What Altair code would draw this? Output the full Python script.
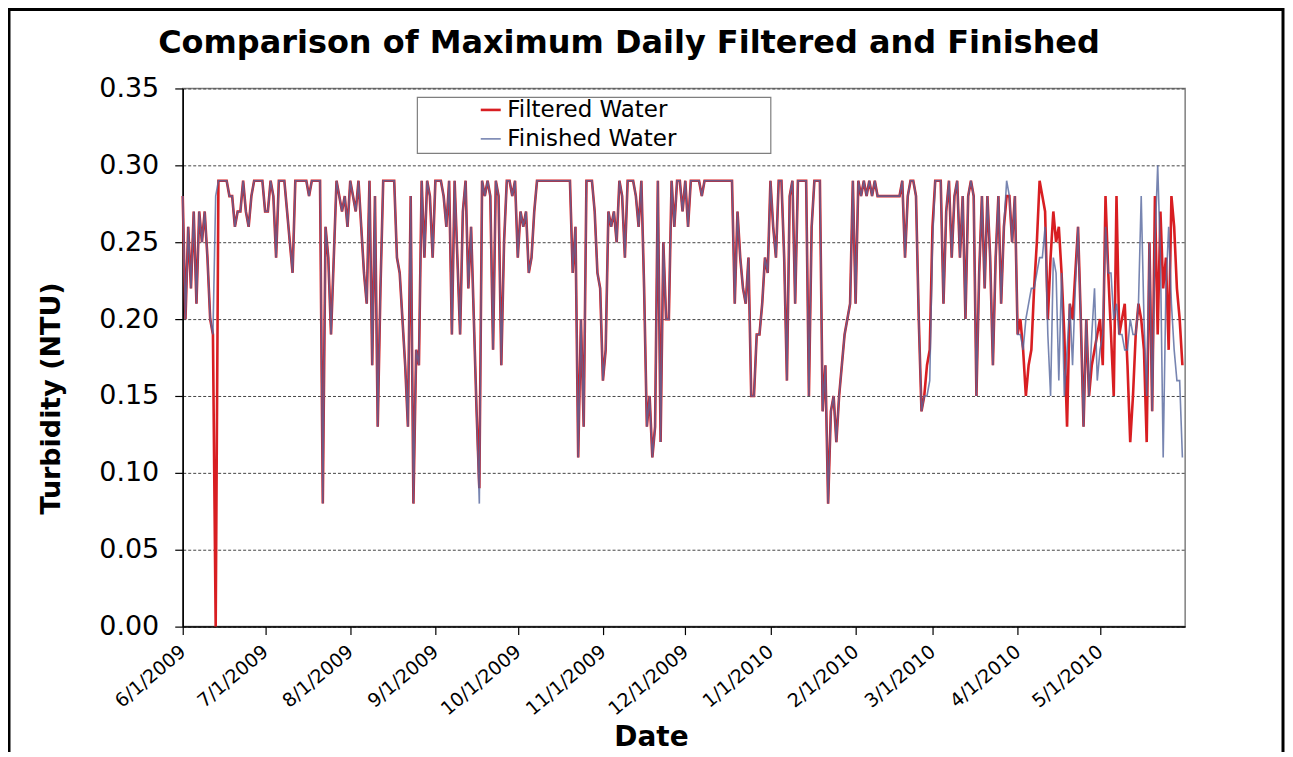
import altair as alt
import pandas as pd

# ---- daily maximum turbidity (NTU) ----
filtered_jun = [0.28,0.20,0.26,0.22,0.27,0.21,0.27,0.25,0.27,0.24,
                0.20,0.19,0.00,0.29,0.29,0.29,0.29,0.28,0.28,0.26,
                0.27,0.27,0.29,0.27,0.26,0.28,0.29,0.29,0.29,0.29]
filtered_jul = [0.27,0.27,0.29,0.28,0.24,0.29,0.29,0.29,0.27,0.25,
                0.23,0.29,0.29,0.29,0.29,0.29,0.28,0.29,0.29,0.29,
                0.29,0.08,0.26,0.24,0.19,0.24,0.29,0.28,0.27,0.28,
                0.26]
filtered_aug = [0.29,0.28,0.27,0.29,0.26,0.23,0.21,0.29,0.17,0.28,
                0.13,0.22,0.29,0.29,0.29,0.29,0.29,0.24,0.23,0.20,
                0.17,0.13,0.28,0.08,0.18,0.17,0.29,0.24,0.29,0.28,
                0.24]
filtered_sep = [0.29,0.29,0.29,0.28,0.26,0.29,0.19,0.29,0.24,0.19,
                0.27,0.29,0.22,0.26,0.20,0.14,0.09,0.29,0.28,0.29,
                0.28,0.18,0.29,0.28,0.17,0.25,0.29,0.29,0.28,0.29]
filtered_oct = [0.24,0.27,0.26,0.27,0.23,0.24,0.27,0.29,0.29,0.29,
                0.29,0.29,0.29,0.29,0.29,0.29,0.29,0.29,0.29,0.29,
                0.23,0.26,0.11,0.20,0.13,0.29,0.29,0.29,0.27,0.23,
                0.22]
filtered_nov = [0.16,0.18,0.27,0.26,0.27,0.25,0.29,0.28,0.24,0.29,
                0.29,0.29,0.28,0.26,0.29,0.22,0.13,0.15,0.11,0.13,
                0.29,0.12,0.25,0.20,0.20,0.29,0.26,0.29,0.29,0.27]
filtered_dec = [0.29,0.26,0.29,0.29,0.29,0.29,0.28,0.29,0.29,0.29,
                0.29,0.29,0.29,0.29,0.29,0.29,0.29,0.29,0.21,0.27,
                0.24,0.22,0.21,0.24,0.15,0.15,0.19,0.19,0.21,0.24,
                0.23]
filtered_jan = [0.29,0.26,0.24,0.29,0.29,0.24,0.16,0.28,0.29,0.21,
                0.29,0.29,0.29,0.29,0.15,0.26,0.29,0.29,0.29,0.14,
                0.17,0.08,0.14,0.15,0.12,0.15,0.17,0.19,0.20,0.21,
                0.29]
filtered_feb = [0.21,0.29,0.28,0.29,0.28,0.29,0.28,0.29,0.28,0.28,
                0.28,0.28,0.28,0.28,0.28,0.28,0.28,0.29,0.24,0.28,
                0.29,0.29,0.28,0.20,0.14,0.15,0.17,0.18]
filtered_mar = [0.26,0.29,0.29,0.29,0.21,0.27,0.29,0.24,0.28,0.29,
                0.24,0.28,0.20,0.28,0.29,0.28,0.15,0.23,0.28,0.22,
                0.28,0.24,0.17,0.24,0.28,0.21,0.26,0.28,0.28,0.25,
                0.28]
filtered_apr = [0.19,0.20,0.18,0.15,0.17,0.18,0.22,0.25,0.29,0.28,
                0.27,0.20,0.24,0.27,0.25,0.26,0.23,0.19,0.13,0.21,
                0.20,0.23,0.26,0.20,0.13,0.20,0.15,0.17,0.18,0.19]
filtered_may = [0.20,0.17,0.28,0.23,0.19,0.15,0.28,0.19,0.20,0.21,
                0.17,0.12,0.15,0.19,0.21,0.20,0.18,0.12,0.25,0.14,
                0.28,0.19,0.27,0.22,0.24,0.18,0.28,0.26,0.22,0.20,
                0.17]

# Finished water: same as filtered June-March except these days (day index from 6/1/2009)
finished_diff = {12: 0.28, 108: 0.08, 271: 0.15, 272: 0.16, 273: 0.25, 300: 0.29}
finished_apr = [0.19,0.19,0.18,0.20,0.21,0.22,0.22,0.23,0.24,0.24,
                0.26,0.19,0.15,0.24,0.23,0.16,0.23,0.15,0.18,0.21,
                0.17,0.22,0.26,0.20,0.13,0.20,0.15,0.19,0.22,0.16]
finished_may = [0.18,0.19,0.26,0.23,0.23,0.20,0.21,0.19,0.19,0.18,
                0.18,0.20,0.19,0.19,0.21,0.28,0.20,0.15,0.25,0.14,
                0.25,0.30,0.24,0.11,0.22,0.26,0.21,0.18,0.16,0.16,
                0.11]

series_names = ["Filtered Water", "Finished Water"]
series_colors = ["#d81e22", "#55679e"]
y_ticks = [0.00, 0.05, 0.10, 0.15, 0.20, 0.25, 0.30, 0.35]
tick_months = [(2009, 6), (2009, 7), (2009, 8), (2009, 9), (2009, 10), (2009, 11),
               (2009, 12), (2010, 1), (2010, 2), (2010, 3), (2010, 4), (2010, 5)]

filtered = (filtered_jun + filtered_jul + filtered_aug + filtered_sep + filtered_oct +
            filtered_nov + filtered_dec + filtered_jan + filtered_feb + filtered_mar +
            filtered_apr + filtered_may)
finished_early = filtered[:304]
finished_early = [finished_diff.get(i, v) for i, v in enumerate(finished_early)]
finished = finished_early + finished_apr + finished_may

dates = pd.date_range("2009-06-01", periods=len(filtered), freq="D").strftime("%Y-%m-%dT00:00:00")
df = pd.concat([
    pd.DataFrame({"date": dates, "series": series_names[0], "value": filtered}),
    pd.DataFrame({"date": dates, "series": series_names[1], "value": finished}),
], ignore_index=True)

FONT = "DejaVu Sans"

lines = alt.Chart(df).mark_line(interpolate="linear").encode(
    x=alt.X("date:T",
            scale=alt.Scale(domain=[alt.DateTime(year=2009, month=6, date=1),
                                    alt.DateTime(year=2010, month=6, date=1)]),
            axis=alt.Axis(values=[alt.DateTime(year=y, month=m, date=1) for y, m in tick_months],
                          format="%-m/%-d/%Y", labelAngle=-40, labelAlign="right",
                          labelBaseline="middle", labelFontSize=19, labelPadding=14,
                          labelOverlap=False, labelBound=False, labelFlush=False,
                          tickSize=8, grid=False, title="Date", titleFontSize=28,
                          titleFontWeight="bold", titleX=469, titleY=111,
                          titleBaseline="middle")),
    y=alt.Y("value:Q",
            scale=alt.Scale(domain=[0, 0.35], nice=False, zero=True),
            axis=alt.Axis(values=y_ticks, format=".2f", labelFontSize=27,
                          labelPadding=16, tickSize=8, grid=True, gridColor="#444444",
                          labelOverlap=False, labelFlush=False,
                          gridDash=[3, 2], gridWidth=1, title="Turbidity (NTU)",
                          titleFontSize=27, titleFontWeight="bold", titleX=-131,
                          titleY=310, titleBaseline="middle")),
    color=alt.Color("series:N",
                    scale=alt.Scale(domain=series_names, range=series_colors),
                    legend=alt.Legend(title=None, orient="none", legendX=297, legendY=10,
                                      symbolType="stroke", symbolSize=400,
                                      symbolStrokeWidth=2.5, labelFontSize=23,
                                      labelFont=FONT, labelOffset=5, rowPadding=5,
                                      labelLimit=500, padding=0, labelColor="#000000")),
    strokeWidth=alt.StrokeWidth("series:N",
                                scale=alt.Scale(domain=series_names, range=[2.6, 1.6]),
                                legend=None),
    opacity=alt.Opacity("series:N",
                        scale=alt.Scale(domain=series_names, range=[1.0, 0.8]),
                        legend=None),
)

one = pd.DataFrame({"k": [0]})
legend_box = alt.Chart(one).mark_rect(fill="white", stroke="#7f7f7f", strokeWidth=1.2).encode(
    x=alt.value(235), x2=alt.value(589), y=alt.value(9), y2=alt.value(65))
outer_frame = alt.Chart(one).mark_rect(fill=None, stroke="black", strokeWidth=3).encode(
    x=alt.value(-174), x2=alt.value(1102), y=alt.value(-79), y2=alt.value(720))

chart = alt.layer(outer_frame, legend_box, lines).properties(
    width=1004, height=539,
    padding={"left": 175, "top": 80, "right": 100, "bottom": 125},
    autosize=alt.AutoSizeParams(type="none"),
    title=alt.TitleParams("Comparison of Maximum Daily Filtered and Finished",
                          font=FONT, fontSize=32, fontWeight="bold", anchor="middle",
                          dx=-55, dy=52, offset=0, color="black"),
).configure(
    background="white",
).configure_view(
    stroke="#7f7f7f", strokeWidth=1.5,
).configure_axis(
    labelFont=FONT, titleFont=FONT, labelColor="black", titleColor="black",
    domainColor="black", domainWidth=1.5, tickColor="black", tickWidth=1.2,
)

chart.save("out.html", embed_options={"renderer": "svg", "actions": False})
